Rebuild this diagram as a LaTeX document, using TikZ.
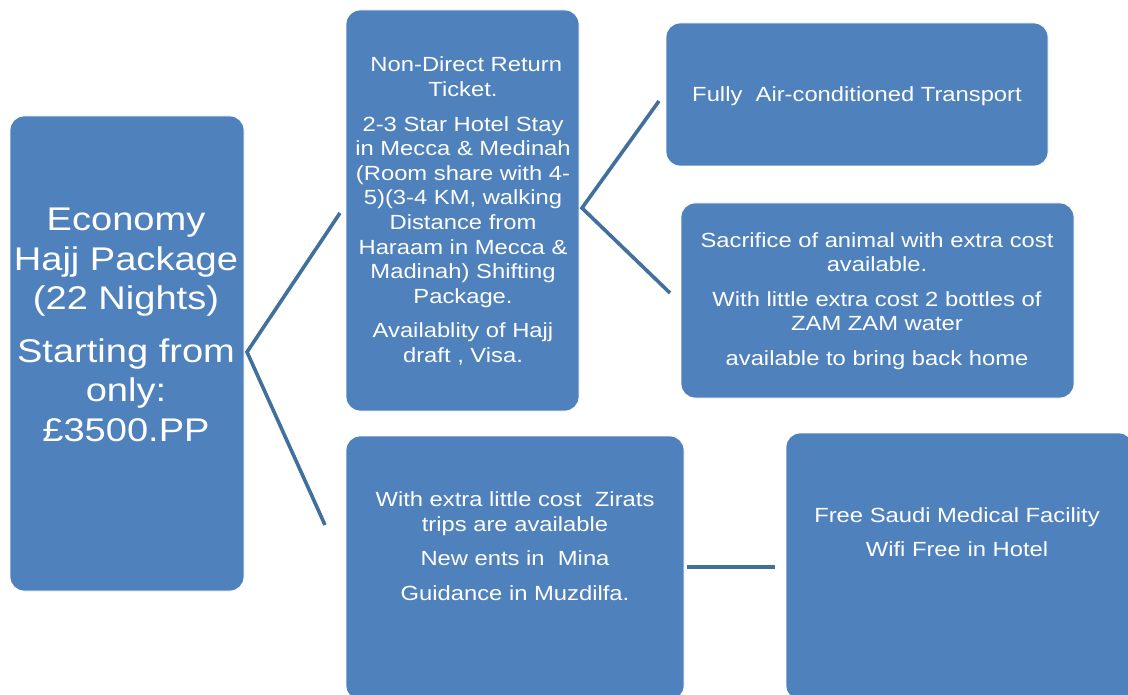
\documentclass[tikz,border=0pt]{standalone}
\usepackage{fontspec}
\setmainfont[FakeStretch=1.16]{Liberation Sans}
\definecolor{boxblue}{HTML}{4F81BD}
\definecolor{lineblue}{HTML}{41709C}
\begin{document}
\begin{tikzpicture}[x=1pt,y=-1pt,
  box/.style={draw=white,line width=0.8pt,fill=boxblue,rounded corners=14pt},
  txt/.style={text=white,align=center,inner sep=0pt},
  conn/.style={draw=lineblue,line width=3.6pt}]
\useasboundingbox (0,0) rectangle (1128,695);
\fill[white] (0,0) rectangle (1128,695);
% boxes
\path[box] (10,116) rectangle (244,591);
\path[box] (346,10) rectangle (579,411);
\path[box] (346,436) rectangle (684,700);
\path[box] (666,23) rectangle (1048,166);
\path[box] (681,203) rectangle (1074,398);
\path[box] (786,433) rectangle (1133,700);
% texts
\node[txt,font=\fontsize{32.8}{39.5}\selectfont] (tleft) at (126,325)
 {Economy\\Hajj Package\\(22 Nights)\\[13pt]Starting from\\only:\\£3500.PP};
\node[txt,font=\fontsize{20.5}{24.6}\selectfont] (tmid) at (463,211)
 {\ Non-Direct Return\\Ticket.\\[10pt]2-3 Star Hotel Stay\\in Mecca \& Medinah\\(Room share with 4-\\5)(3-4 KM, walking\\Distance from\\Haraam in Mecca \&\\Madinah) Shifting\\Package.\\[10pt]Availablity of Hajj\\draft , Visa.};
\node[txt,font=\fontsize{20.5}{24.6}\selectfont] (tbot) at (515,546)
 {With extra little cost\ \ Zirats\\trips are available\\[10pt]New ents in\ \ Mina\\[10pt]Guidance in Muzdilfa.};
\node[txt,font=\fontsize{20.5}{24.6}\selectfont] (tr1) at (857,96)
 {Fully\ \ Air-conditioned Transport};
\node[txt,font=\fontsize{20.5}{24.6}\selectfont] (tr2) at (877,301)
 {Sacrifice of animal with extra cost\\available.\\[10pt]With little extra cost 2 bottles of\\ZAM ZAM water\\[10pt]available to bring back home};
\node[txt,font=\fontsize{20.5}{24.6}\selectfont] (tr3) at (957,532)
 {Free Saudi Medical Facility\\[10pt]Wifi Free in Hotel};
% connectors
\coordinate (a0) at (247,352);
\coordinate (a1) at (340,213);
\coordinate (a2) at (325,525);
\coordinate (b0) at (582,208);
\coordinate (b1) at (659,101);
\coordinate (b2) at (670,293);
\coordinate (c1) at (687,567);
\coordinate (c2) at (775,567);
\draw[conn] (a1) -- (a0) -- (a2);
\draw[conn] (b1) -- (b0) -- (b2);
\draw[conn] (c1) -- (c2);
\end{tikzpicture}
\end{document}
